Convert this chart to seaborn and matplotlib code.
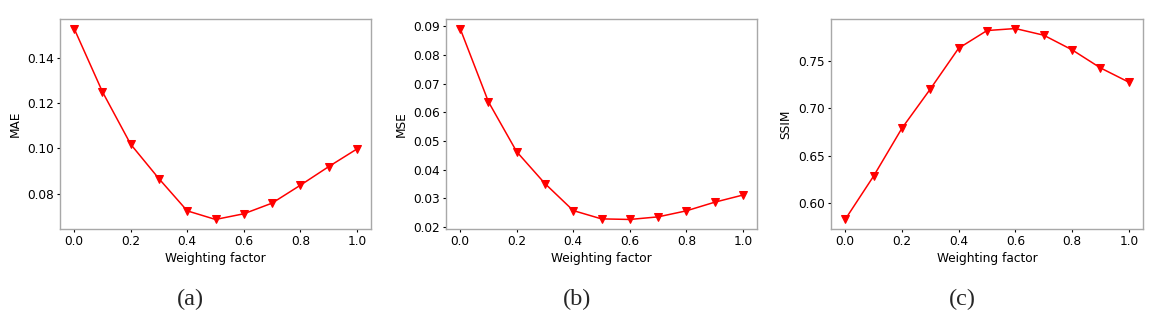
import matplotlib
matplotlib.use("Agg")
import matplotlib.pyplot as plt
import seaborn as sns
import pandas as pd

weights = [0.0, 0.1, 0.2, 0.3, 0.4, 0.5, 0.6, 0.7, 0.8, 0.9, 1.0]
mae = [0.1529, 0.1250, 0.1018, 0.0866, 0.0724, 0.0686, 0.0711, 0.0758, 0.0837, 0.0919, 0.0997]
mse = [0.0892, 0.0637, 0.0463, 0.0352, 0.0258, 0.0229, 0.0227, 0.0236, 0.0257, 0.0287, 0.0312]
ssim = [0.5832, 0.6287, 0.6791, 0.7203, 0.7633, 0.7819, 0.7840, 0.7770, 0.7616, 0.7426, 0.7276]
ylabels = ["MAE", "MSE", "SSIM"]
captions = ["(a)", "(b)", "(c)"]
xticks = [0.0, 0.2, 0.4, 0.6, 0.8, 1.0]
yticks = [
    [0.08, 0.10, 0.12, 0.14],
    [0.02, 0.03, 0.04, 0.05, 0.06, 0.07, 0.08, 0.09],
    [0.60, 0.65, 0.70, 0.75],
]

sns.set_style("ticks")
plt.rcParams['font.family'] = ['DejaVu Sans']

W, H = 1157, 326
fig = plt.figure(figsize=(W / 100, H / 100), dpi=100)

# axes boxes in pixels: left, right, top, bottom
boxes = [(60, 371, 19, 229), (446, 757, 19, 229), (831, 1143, 19, 229)]
caption_x = [190, 577, 962]

for i, (vals, lab) in enumerate(zip([mae, mse, ssim], ylabels)):
    l, r, t, b = boxes[i]
    ax = fig.add_axes([l / W, 1 - b / H, (r - l) / W, (b - t) / H])
    df = pd.DataFrame({"w": weights, "v": vals})
    sns.lineplot(data=df, x="w", y="v", ax=ax, color="red", marker="v",
                 markersize=5.5, linewidth=1.1, markeredgecolor="red")
    ax.set_xticks(xticks)
    ax.set_xticklabels([f"{x:.1f}" for x in xticks], fontsize=8.7, color="black")
    ax.set_yticks(yticks[i])
    ax.set_yticklabels([f"{y:.2f}" for y in yticks[i]], fontsize=8.7, color="black")
    ax.set_xlim(-0.05, 1.05)
    ax.set_xlabel("Weighting factor", fontsize=8.7, color="black", labelpad=2.5)
    ax.set_ylabel(lab, fontsize=8.7, color="black", labelpad=4)
    for s in ax.spines.values():
        s.set_visible(True)
        s.set_color("#a8a8a8")
        s.set_linewidth(1.0)
    ax.tick_params(axis="both", colors="black", length=2.5, width=0.8, pad=2)
    fig.text(caption_x[i] / W, 1 - 299 / H, captions[i], ha="center", va="center",
             fontsize=17.5, family="Liberation Serif")

fig.savefig("out.png", dpi=100, facecolor="white")
